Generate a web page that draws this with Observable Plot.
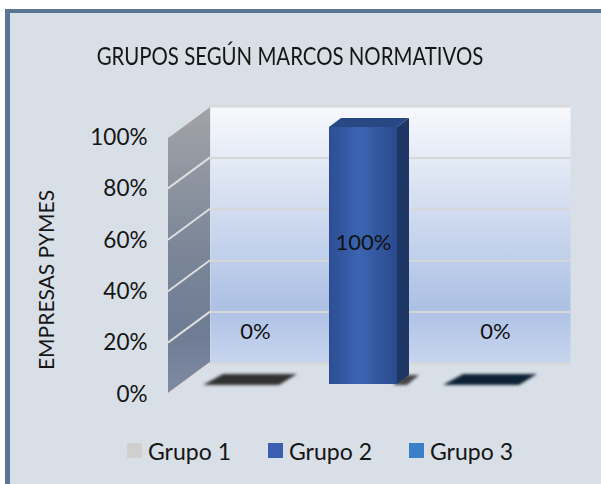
<!DOCTYPE html>
<html><head><meta charset="utf-8">
<script src="https://cdn.jsdelivr.net/npm/d3@7"></script>
<script src="https://cdn.jsdelivr.net/npm/@observablehq/plot@0.6"></script>
<style>
html,body{margin:0;padding:0;width:601px;height:484px;overflow:hidden;background:#fff;font-family:Lato,sans-serif;}
#frame{position:absolute;left:5px;top:9px;width:700px;height:600px;background:#d9dfe7;border-left:5px solid #5b7592;border-top:4px solid #5b7592;}
#title{position:absolute;left:0;top:40px;width:580px;text-align:center;font-size:25.5px;color:#151515;white-space:nowrap;transform:scaleX(0.8);transform-origin:290px 0;}
#chart{position:absolute;left:0;top:80px;}
#legend{position:absolute;left:127px;top:434px;}
.lg-swatches{margin:0 !important;font-family:Lato,sans-serif !important;font-size:23px !important;color:#151515;}
.lg-swatch{width:141px;margin-right:0 !important;}
.lg-swatch > svg{margin-right:6px !important;}
</style></head><body>
<div id="frame"></div>
<div id="title"></div>
<div id="chart"></div>
<div id="legend"></div>
<script>
// ---- data ----
const title = "GRUPOS SEGÚN MARCOS NORMATIVOS";
const yLabel = "EMPRESAS PYMES";
const groups = ["Grupo 1", "Grupo 2", "Grupo 3"];
const values = [0, 1, 0];
const legendColors = ["#cfcfcf", "#3a5fb0", "#3a80c8"];
const topColors = ["#333333", "#284884", "#0f2035"];
const sideColors = ["#2a2a2a", "#1e3664", "#0c1a2c"];
const yTicks = [0, 0.2, 0.4, 0.6, 0.8, 1];

const pct = d3.format(".0%");
const data = groups.map((g, i) => ({group: g, value: values[i], top: topColors[i], side: sideColors[i]}));

document.getElementById("title").textContent = title;

// depth offsets (pixels)
const WALL_DX = 42, WALL_DY = -31;
const BAR_DX = 15, BAR_DY = -10;
const DEPTH_DX = 12, DEPTH_DY = -9;

function defs() {
  const g = d3.create("svg:g");
  const d = g.append("defs");
  const wall = d.append("linearGradient").attr("id", "wallGrad").attr("x1", 0).attr("y1", 0).attr("x2", 0).attr("y2", 1);
  [[0, "#f8f9fd"], [0.25, "#e0e7f4"], [0.5, "#c8d5ed"], [0.78, "#adc1e4"], [1, "#c8d5ee"]]
    .forEach(([o, c]) => wall.append("stop").attr("offset", o).attr("stop-color", c));
  const side = d.append("linearGradient").attr("id", "sideGrad").attr("x1", 0).attr("y1", 0).attr("x2", 0).attr("y2", 1);
  [[0, "#a2a4a8"], [0.5, "#7b8698"], [0.8, "#6e7c94"], [1, "#808ca2"]]
    .forEach(([o, c]) => side.append("stop").attr("offset", o).attr("stop-color", c));
  const front = d.append("linearGradient").attr("id", "frontGrad").attr("x1", 0).attr("y1", 0).attr("x2", 1).attr("y2", 0);
  [[0, "#2c4e93"], [0.45, "#3b65b3"], [1, "#2a4a8d"]]
    .forEach(([o, c]) => front.append("stop").attr("offset", o).attr("stop-color", c));
  const f = d.append("filter").attr("id", "blur").attr("x", "-20%").attr("y", "-50%").attr("width", "140%").attr("height", "200%");
  f.append("feGaussianBlur").attr("stdDeviation", 1.6);
  return g.node();
}

function sideWall(index, scales, values, dims) {
  const {y} = scales;
  const x0 = dims.marginLeft;
  const g = d3.create("svg:g");
  g.append("polygon")
    .attr("points", [[x0, y(0)], [x0, y(1)], [x0 + WALL_DX, y(1) + WALL_DY], [x0 + WALL_DX, y(0) + WALL_DY]].join(" "))
    .attr("fill", "url(#sideGrad)");
  for (const t of yTicks) {
    g.append("line")
      .attr("x1", x0).attr("y1", y(t)).attr("x2", x0 + WALL_DX).attr("y2", y(t) + WALL_DY)
      .attr("stroke", "#dedede").attr("stroke-width", 2);
  }
  return g.node();
}

function bars3d(index, scales) {
  const {x, y} = scales;
  const bw = x.bandwidth();
  const g = d3.create("svg:g");
  for (const d of data) {
    const x0 = x(d.group) + BAR_DX, x1 = x0 + bw;
    const yb = y(0) + BAR_DY, yt = y(d.value) + BAR_DY;
    const poly = (pts, fill, filt) => {
      const p = g.append("polygon").attr("points", pts.join(" ")).attr("fill", fill);
      if (filt) p.attr("filter", "url(#blur)");
    };
    if (d.value > 0) {
      // soft shadow at the base
      poly([[x1 - 4, yb + 1], [x1 + 10, yb + 1], [x1 + DEPTH_DX + 10, yb + DEPTH_DY], [x1 + DEPTH_DX - 4, yb + DEPTH_DY]], "#444", true);
      g.append("rect").attr("x", x0).attr("y", yt).attr("width", bw).attr("height", yb - yt).attr("fill", "url(#frontGrad)");
      poly([[x1, yb], [x1, yt], [x1 + DEPTH_DX, yt + DEPTH_DY], [x1 + DEPTH_DX, yb + DEPTH_DY]], d.side);
      poly([[x0, yt], [x1, yt], [x1 + DEPTH_DX, yt + DEPTH_DY], [x0 + DEPTH_DX, yt + DEPTH_DY]], d.top);
    } else {
      poly([[x0 - 6, yb + 1], [x1 + 2, yb + 1], [x1 + DEPTH_DX + 8, yt + DEPTH_DY - 1], [x0 + DEPTH_DX + 2, yt + DEPTH_DY - 1]], d.top, true);
    }
  }
  return g.node();
}

const chart = Plot.plot({
  width: 601, height: 340,
  marginLeft: 168, marginRight: 73, marginTop: 57, marginBottom: 26,
  style: {background: "transparent", fontFamily: "Lato, sans-serif", color: "#151515", overflow: "visible"},
  x: {type: "band", domain: groups, paddingInner: 0.433, paddingOuter: 0.2165, axis: null},
  y: {domain: [0, 1], axis: null},
  marks: [
    defs,
    Plot.frame({fill: "url(#wallGrad)", stroke: "none", dx: WALL_DX, dy: WALL_DY}),
    Plot.ruleY(yTicks, {dx: WALL_DX, dy: WALL_DY, stroke: "#d7d7d7", strokeWidth: 2}),
    sideWall,
    bars3d,
    Plot.axisY(yTicks, {tickSize: 0, tickPadding: 21, tickFormat: pct, fontSize: 22.5, label: null, fill: "#151515"}),
    Plot.text([yLabel], {frameAnchor: "left", textAnchor: "middle", rotate: -90, dx: -121, dy: 14, fontSize: 21, fill: "#151515"}),
    Plot.text(data.filter(d => d.value > 0), {x: "group", y: d => d.value / 2, text: d => pct(d.value), dx: BAR_DX, dy: -23, fontSize: 22, fill: "#111"}),
    Plot.text(data.filter(d => d.value === 0), {x: "group", y: "value", text: d => pct(d.value), dx: BAR_DX + 12, dy: -63, fontSize: 22, fill: "#111"})
  ]
});
document.getElementById("chart").appendChild(chart);

const legend = Plot.legend({
  color: {type: "ordinal", domain: groups, range: legendColors},
  legend: "swatches", swatchSize: 15, className: "lg"
});
document.getElementById("legend").appendChild(legend);
</script>
</body></html>
